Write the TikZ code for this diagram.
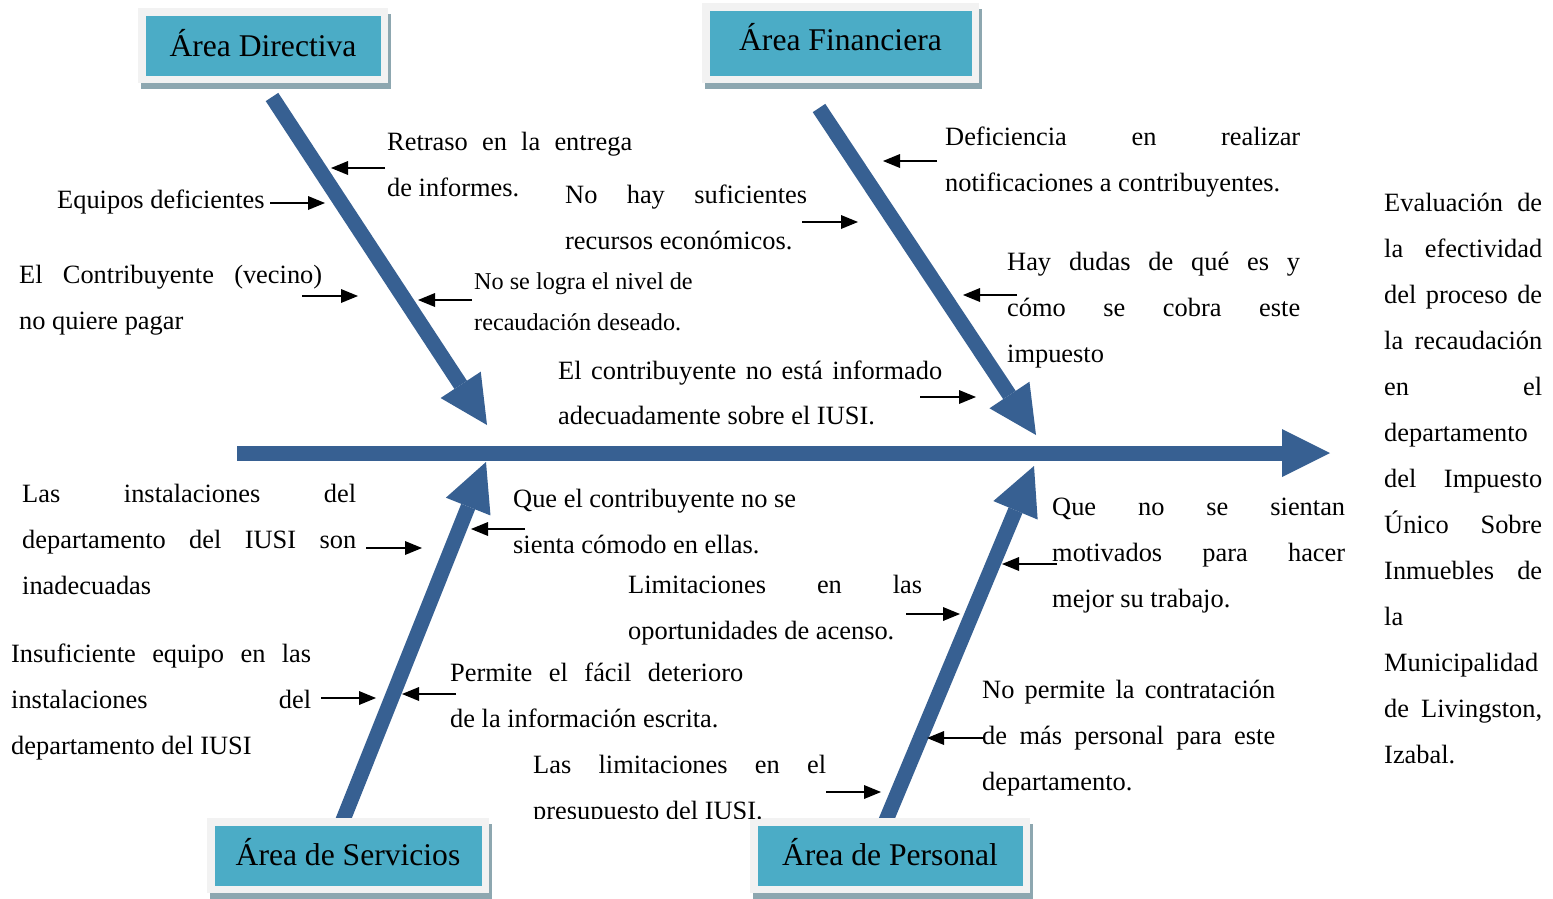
\documentclass[tikz,border=0pt]{standalone}
\usepackage{fontspec}
\setmainfont{Liberation Serif}
\usetikzlibrary{arrows.meta}
\definecolor{spine}{RGB}{55,96,146}
\definecolor{areateal}{RGB}{75,172,198}
\definecolor{frame}{RGB}{242,242,242}
\definecolor{shade}{RGB}{141,167,176}
\begin{document}
\begin{tikzpicture}[x=1pt,y=-1pt,
  bone/.style={draw=spine, line width=15pt, -{Triangle[length=48pt,width=48pt,line width=0pt]}},
  hint/.style={draw=black, line width=2.5pt, -{Triangle[length=17pt,width=14pt,line width=0pt]}},
  area/.style={fill=areateal, draw=frame, line width=7.5pt, inner sep=0pt,
    font=\fontsize{31.6pt}{36pt}\selectfont,
    preaction={fill=shade, draw=shade, transform canvas={xshift=3pt,yshift=-6pt}}},
  txt/.style={inner sep=0pt, anchor=base west, align=flush left,
    font=\fontsize{26.4pt}{46pt}\selectfont},
  smalltxt/.style={txt, font=\fontsize{24.2pt}{41.5pt}\selectfont},
]
\fill[white] (0,0) rectangle (1553,898);
\useasboundingbox (0,0) rectangle (1553,898);

% bones
\coordinate (tl0) at (272,97);   \coordinate (tl1) at (487,425);
\coordinate (tr0) at (819,108);  \coordinate (tr1) at (1036,435);
\coordinate (bl0) at (339,830);  \coordinate (bl1) at (486,462);
\coordinate (br0) at (882,830);  \coordinate (br1) at (1034,466);
\coordinate (sp0) at (237,453);  \coordinate (sp1) at (1330,453);
\draw[bone] (tl0) -- (tl1);
\draw[bone] (tr0) -- (tr1);
\draw[bone] (bl0) -- (bl1);
\draw[bone] (br0) -- (br1);
\draw[bone] (sp0) -- (sp1);

% area boxes
\node[area, minimum width=242.5pt, minimum height=67.5pt] (dir) at (263,45.5) {\raisebox{6pt}{Área Directiva}};
\node[area, minimum width=269.5pt, minimum height=72.5pt] (fin) at (840.5,43) {\raisebox{13pt}{Área Financiera}};
\node[area, minimum width=274.5pt, minimum height=67.5pt] (ser) at (348,855.5) {\raisebox{7pt}{Área de Servicios}};
\node[area, minimum width=272.5pt, minimum height=67.5pt] (per) at (890,855.5) {\raisebox{7pt}{Área de Personal}};

% texts
\node[txt, text width=245pt] (t1) at (387,150) {Retraso\hfill en\hfill la\hfill entrega\\de informes.};
\node[txt] (t2) at (57,208) {Equipos deficientes};
\node[txt, text width=303pt] (t3) at (19,283) {El\hfill Contribuyente\hfill (vecino)\\no quiere pagar};
\node[txt, text width=242pt] (t4) at (565,203) {No\hfill hay\hfill suficientes\\recursos económicos.};
\node[smalltxt, text width=230pt] (t5) at (474,289) {No se logra el nivel de\\recaudación deseado.};
\node[txt, text width=384pt, font=\fontsize{26.4pt}{45pt}\selectfont] (t6) at (558,379) {El\hfill contribuyente\hfill no\hfill está\hfill informado\\adecuadamente sobre el IUSI.};
\node[txt, text width=355pt] (t7) at (945,145) {Deficiencia\hfill en\hfill realizar\\notificaciones a contribuyentes.};
\node[txt, text width=293pt] (t8) at (1007,270) {Hay\hfill dudas\hfill de\hfill qué\hfill es\hfill y\\cómo\hfill se\hfill cobra\hfill este\\impuesto};
\node[txt, text width=158pt] (t9) at (1384,211) {Evaluación\hfill de\\la\hfill efectividad\\del\hfill proceso\hfill de\\la\hfill recaudación\\en\hfill el\\departamento\\del\hfill Impuesto\\Único\hfill Sobre\\Inmuebles\hfill de\\la\\Municipalidad\\de\hfill Livingston,\\Izabal.};
\node[txt, text width=334pt] (t10) at (22,502) {Las\hfill instalaciones\hfill del\\departamento\hfill del\hfill IUSI\hfill son\\inadecuadas};
\node[txt, text width=300pt] (t11) at (513,507) {Que el contribuyente no se\\sienta cómodo en ellas.};
\node[txt, text width=300pt] (t12) at (11,662) {Insuficiente\hfill equipo\hfill en\hfill las\\instalaciones\hfill del\\departamento del IUSI};
\node[txt, text width=293pt] (t13) at (450,681) {Permite\hfill el\hfill fácil\hfill deterioro\\de la información escrita.};
\node[txt, text width=294pt] (t14) at (628,593) {Limitaciones\hfill en\hfill las\\oportunidades de acenso.};
\begin{scope}
\clip (500,740) rectangle (850,818);
\node[txt, text width=293pt] (t15) at (533,773) {Las\hfill limitaciones\hfill en\hfill el\\presupuesto del IUSI.};
\end{scope}
\node[txt, text width=293pt] (t16) at (1052,515) {Que\hfill no\hfill se\hfill sientan\\motivados\hfill para\hfill hacer\\mejor su trabajo.};
\node[txt, text width=293pt] (t17) at (982,698) {No\hfill permite\hfill la\hfill contratación\\de\hfill más\hfill personal\hfill para\hfill este\\departamento.};

% small arrows
\coordinate (a1s) at (385,168);  \coordinate (a1e) at (331,168);
\coordinate (a2s) at (270,203);  \coordinate (a2e) at (325,203);
\coordinate (a3s) at (302,296);  \coordinate (a3e) at (358,296);
\coordinate (a4s) at (472,300);  \coordinate (a4e) at (418,300);
\coordinate (a5s) at (802,222);  \coordinate (a5e) at (858,222);
\coordinate (a6s) at (937,161);  \coordinate (a6e) at (883,161);
\coordinate (a7s) at (1017,295); \coordinate (a7e) at (963,295);
\coordinate (a8s) at (920,397);  \coordinate (a8e) at (976,397);
\coordinate (a9s) at (366,548);  \coordinate (a9e) at (422,548);
\coordinate (a10s) at (525,529); \coordinate (a10e) at (471,529);
\coordinate (a11s) at (321,698); \coordinate (a11e) at (376,698);
\coordinate (a12s) at (456,694); \coordinate (a12e) at (402,694);
\coordinate (a13s) at (826,792); \coordinate (a13e) at (881,792);
\coordinate (a14s) at (906,614); \coordinate (a14e) at (960,614);
\coordinate (a15s) at (1057,564);\coordinate (a15e) at (1002,564);
\coordinate (a16s) at (983,738); \coordinate (a16e) at (927,738);
\foreach \i in {1,...,16} {\draw[hint] (a\i s) -- (a\i e);}
\end{tikzpicture}
\end{document}
